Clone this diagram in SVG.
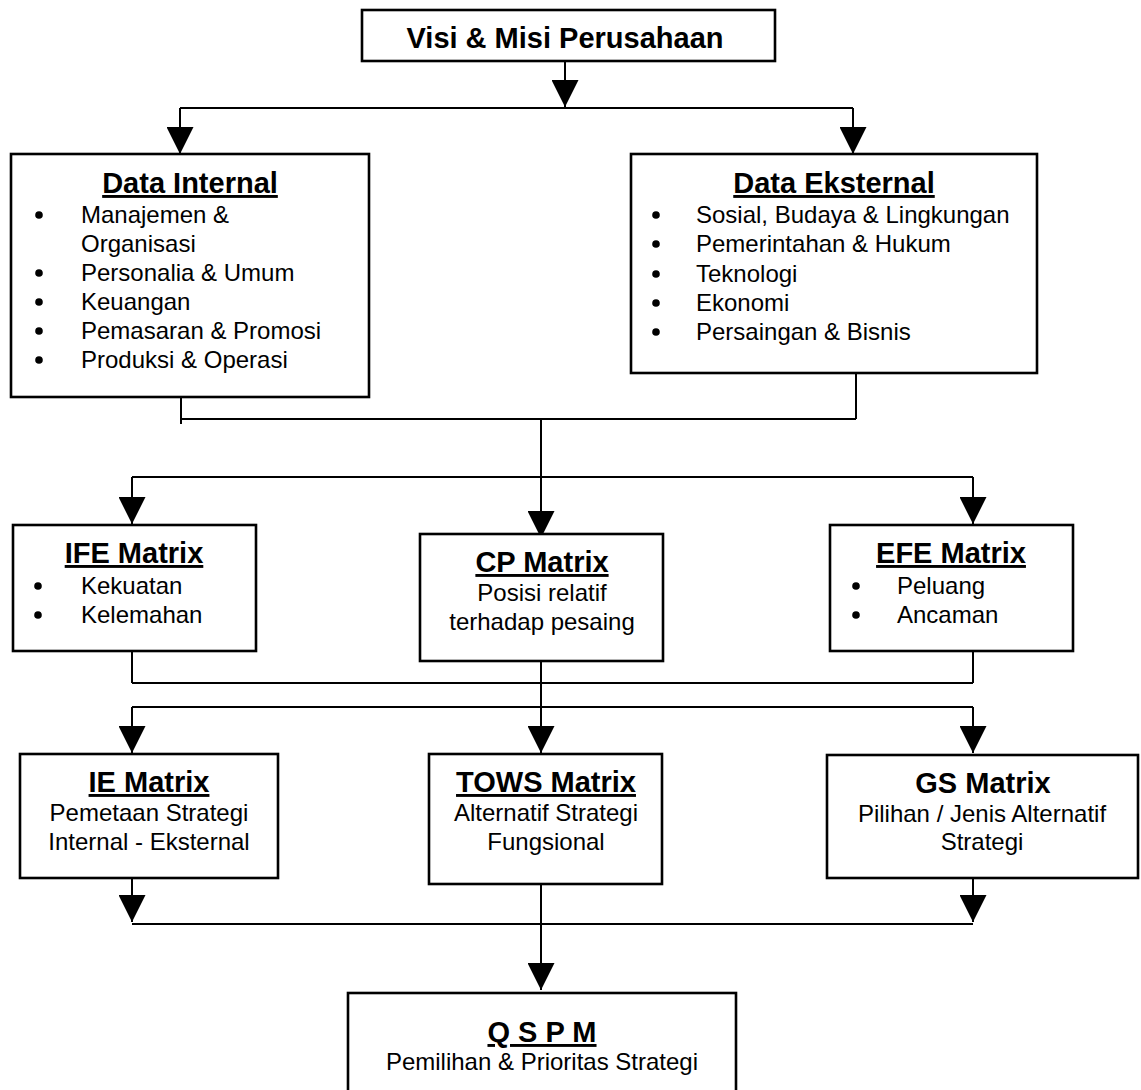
<svg xmlns="http://www.w3.org/2000/svg" width="1141" height="1090" viewBox="0 0 1141 1090">
  <style>
    .box { fill: #ffffff; stroke: #000000; stroke-width: 2.6; }
    .wire { fill: none; stroke: #000000; stroke-width: 2; }
    .title { font-family: "Liberation Sans", Arial, sans-serif; font-size: 29px; font-weight: bold; fill: #000000; text-anchor: middle; }
    .ul { text-decoration: underline; }
    .body { font-family: "Liberation Sans", Arial, sans-serif; font-size: 24px; fill: #000000; }
    .mid { text-anchor: middle; }
    .dot { fill: #000000; }
  </style>
  <defs>
    <marker id="head" viewBox="0 0 27 27" refX="27" refY="13.5" markerWidth="27" markerHeight="27" markerUnits="userSpaceOnUse" orient="auto">
      <path d="M0,0 L27,13.5 L0,27 Z" fill="#000000"/>
    </marker>
  </defs>
  <rect width="1141" height="1090" fill="#ffffff"/>

  <!-- connectors -->
  <g id="connectors">
    <!-- vision to data boxes -->
    <line class="wire" x1="565" y1="61" x2="565" y2="107" marker-end="url(#head)"/>
    <line class="wire" x1="180" y1="108" x2="853" y2="108" stroke-width="2.4"/>
    <line class="wire" x1="180" y1="108" x2="180" y2="154" marker-end="url(#head)"/>
    <line class="wire" x1="853" y1="108" x2="853" y2="154" marker-end="url(#head)"/>
    <!-- data boxes merge -->
    <line class="wire" x1="181" y1="397" x2="181" y2="424"/>
    <line class="wire" x1="856" y1="373" x2="856" y2="419"/>
    <line class="wire" x1="181" y1="419" x2="856" y2="419"/>
    <!-- to matrices row 1 -->
    <line class="wire" x1="541" y1="419" x2="541" y2="538" marker-end="url(#head)"/>
    <line class="wire" x1="132" y1="477" x2="973" y2="477"/>
    <line class="wire" x1="132" y1="477" x2="132" y2="524" marker-end="url(#head)"/>
    <line class="wire" x1="973" y1="477" x2="973" y2="524" marker-end="url(#head)"/>
    <!-- row 1 merge -->
    <line class="wire" x1="132" y1="651" x2="132" y2="683"/>
    <line class="wire" x1="973" y1="651" x2="973" y2="683"/>
    <line class="wire" x1="132" y1="683" x2="973" y2="683"/>
    <!-- to matrices row 2 -->
    <line class="wire" x1="541" y1="661" x2="541" y2="753" marker-end="url(#head)"/>
    <line class="wire" x1="132" y1="707" x2="973" y2="707"/>
    <line class="wire" x1="132" y1="707" x2="132" y2="753" marker-end="url(#head)"/>
    <line class="wire" x1="973" y1="707" x2="973" y2="753" marker-end="url(#head)"/>
    <!-- row 2 merge -->
    <line class="wire" x1="132" y1="878" x2="132" y2="922" marker-end="url(#head)"/>
    <line class="wire" x1="973" y1="878" x2="973" y2="922" marker-end="url(#head)"/>
    <line class="wire" x1="132" y1="924" x2="973" y2="924"/>
    <!-- to QSPM -->
    <line class="wire" x1="541" y1="877" x2="541" y2="990" marker-end="url(#head)"/>
  </g>

  <g id="visi-misi">
    <rect class="box" x="362" y="10" width="413" height="51"/>
    <text class="title" x="565" y="48">Visi &amp; Misi Perusahaan</text>
  </g>

  <g id="data-internal">
    <rect class="box" x="11" y="154" width="358" height="243"/>
    <text class="title ul" x="190" y="193">Data Internal</text>
    <circle class="dot" cx="39" cy="215" r="3.8"/>
    <circle class="dot" cx="39" cy="273" r="3.8"/>
    <circle class="dot" cx="39" cy="302" r="3.8"/>
    <circle class="dot" cx="39" cy="331" r="3.8"/>
    <circle class="dot" cx="39" cy="360" r="3.8"/>
    <text class="body" x="81" y="223">Manajemen &amp;</text>
    <text class="body" x="81" y="252">Organisasi</text>
    <text class="body" x="81" y="281">Personalia &amp; Umum</text>
    <text class="body" x="81" y="310">Keuangan</text>
    <text class="body" x="81" y="339">Pemasaran &amp; Promosi</text>
    <text class="body" x="81" y="368">Produksi &amp; Operasi</text>
  </g>

  <g id="data-eksternal">
    <rect class="box" x="631" y="154" width="406" height="219"/>
    <text class="title ul" x="834" y="193">Data Eksternal</text>
    <circle class="dot" cx="656" cy="215" r="3.8"/>
    <circle class="dot" cx="656" cy="244" r="3.8"/>
    <circle class="dot" cx="656" cy="274" r="3.8"/>
    <circle class="dot" cx="656" cy="303" r="3.8"/>
    <circle class="dot" cx="656" cy="332" r="3.8"/>
    <text class="body" x="696" y="223">Sosial, Budaya &amp; Lingkungan</text>
    <text class="body" x="696" y="252">Pemerintahan &amp; Hukum</text>
    <text class="body" x="696" y="282">Teknologi</text>
    <text class="body" x="696" y="311">Ekonomi</text>
    <text class="body" x="696" y="340">Persaingan &amp; Bisnis</text>
  </g>

  <g id="ife-matrix">
    <rect class="box" x="13" y="525" width="243" height="126"/>
    <text class="title ul" x="134" y="563">IFE Matrix</text>
    <circle class="dot" cx="38" cy="586" r="3.8"/>
    <circle class="dot" cx="38" cy="615" r="3.8"/>
    <text class="body" x="81" y="594">Kekuatan</text>
    <text class="body" x="81" y="623">Kelemahan</text>
  </g>

  <g id="cp-matrix">
    <rect class="box" x="420" y="534" width="243" height="127"/>
    <text class="title ul" x="542" y="572">CP Matrix</text>
    <text class="body mid" x="542" y="601">Posisi relatif</text>
    <text class="body mid" x="542" y="630">terhadap pesaing</text>
  </g>

  <g id="efe-matrix">
    <rect class="box" x="830" y="525" width="243" height="126"/>
    <text class="title ul" x="951" y="563">EFE Matrix</text>
    <circle class="dot" cx="856" cy="586" r="3.8"/>
    <circle class="dot" cx="856" cy="615" r="3.8"/>
    <text class="body" x="897" y="594">Peluang</text>
    <text class="body" x="897" y="623">Ancaman</text>
  </g>

  <g id="ie-matrix">
    <rect class="box" x="20" y="754" width="258" height="124"/>
    <text class="title ul" x="149" y="792">IE Matrix</text>
    <text class="body mid" x="149" y="821">Pemetaan Strategi</text>
    <text class="body mid" x="149" y="850">Internal - Eksternal</text>
  </g>

  <g id="tows-matrix">
    <rect class="box" x="429" y="754" width="233" height="130"/>
    <text class="title ul" x="546" y="792">TOWS Matrix</text>
    <text class="body mid" x="546" y="821">Alternatif Strategi</text>
    <text class="body mid" x="546" y="850">Fungsional</text>
  </g>

  <g id="gs-matrix">
    <rect class="box" x="827" y="755" width="311" height="123"/>
    <text class="title" x="983" y="793">GS Matrix</text>
    <text class="body mid" x="982" y="822">Pilihan / Jenis Alternatif</text>
    <text class="body mid" x="982" y="850">Strategi</text>
  </g>

  <g id="qspm">
    <rect class="box" x="348" y="993" width="388" height="120"/>
    <text class="title ul" x="542" y="1042">Q S P M</text>
    <text class="body mid" x="542" y="1070">Pemilihan &amp; Prioritas Strategi</text>
  </g>
</svg>
